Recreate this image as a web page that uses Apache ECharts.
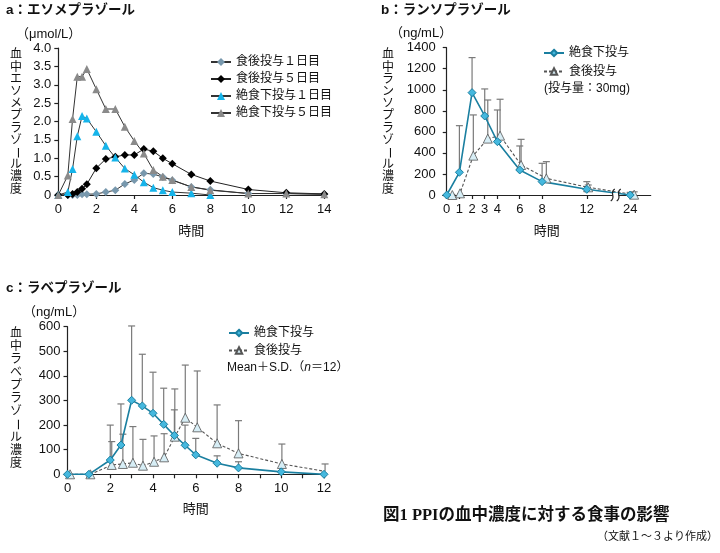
<!DOCTYPE html>
<html>
<head>
<meta charset="utf-8">
<script src="https://cdn.jsdelivr.net/npm/echarts@6/dist/echarts.min.js"></script>
<style>
html, body { margin: 0; padding: 0; background: #fff; }
#main { width: 720px; height: 553px; }
</style>
</head>
<body>
<div id="main"></div>
<script>
// a: エソメプラゾール (μmol/L)
var aTime = [0, 0.5, 0.75, 1, 1.25, 1.5, 2, 2.5, 3, 3.5, 4, 4.5, 5, 5.5, 6, 7, 8, 10, 12, 14];
var aFed1 = [0, 0, 0, 0, 0.02, 0.02, 0.03, 0.08, 0.13, 0.3, 0.41, 0.59, 0.57, 0.49, 0.4, 0.22, 0.14, 0.04, 0.04, 0.02];
var aFed5 = [0, 0, 0.03, 0.08, 0.17, 0.29, 0.73, 0.98, 1.04, 1.09, 1.09, 1.25, 1.19, 1.0, 0.85, 0.56, 0.38, 0.15, 0.06, 0.03];
var aFast1 = [0, 0.08, 0.71, 1.6, 2.15, 2.08, 1.72, 1.34, 1.02, 0.72, 0.55, 0.35, 0.2, 0.13, 0.08, 0.05, 0, null, null, null];
var aFast5 = [0, 0.53, 2.07, 3.22, 3.22, 3.43, 2.88, 2.34, 2.34, 1.86, 1.47, 1.13, 0.68, 0.5, 0.41, 0.22, 0.13, 0.04, 0.04, 0.02];
var aNames = ['食後投与１日目', '食後投与５日目', '絶食下投与１日目', '絶食下投与５日目'];

// b: ランソプラゾール (ng/mL)
var bFastTime = [0, 1, 2, 3, 4, 6, 8, 12, 24];
var bFast = [0, 216, 973, 751, 507, 238, 127, 54, 0];
var bFastTop = [null, 659, 1306, 1008, 808, 466, 301, 127, 25];
var bFedTime = [0.44, 1.05, 2.1, 3.24, 4.24, 6.12, 8.38, 12.38, 25.1];
var bFed = [0, 16, 374, 536, 564, 285, 158, 73, 3];
var bFedTop = [null, null, 761, 903, 910, 529, 317, 95, 30];
var bTicks = [0, 1, 2, 3, 4, 6, 8, 12, 24];
var bBreakAt = 20;

// c: ラベプラゾール (ng/mL)
var cFastTime = [0, 1, 2, 2.5, 3, 3.5, 4, 4.5, 5, 5.5, 6, 7, 8, 10, 12];
var cFast = [0, 0, 58, 119, 301, 278, 248, 203, 158, 118, 79, 45, 26, 10, 0];
var cFastTop = [null, null, 200, 286, 603, 488, 415, 350, 262, 200, 146, 75, 51, null, null];
var cFedTime = [0.12, 1.07, 2.07, 2.59, 3.06, 3.53, 4.05, 4.52, 5.02, 5.51, 6.07, 7, 8, 10.03, 12.05];
var cFed = [0, 0, 38, 42, 47, 35, 51, 69, 153, 230, 191, 126, 85, 42, 12];
var cFedTop = [null, null, 133, 163, 194, 142, 156, 165, 347, 444, 420, 282, 218, 123, 42];

var FONT = "'Liberation Sans', 'Noto Sans CJK JP', sans-serif";
var TEAL = '#1a7fa0';

// b axis is stretched 0-4h and broken before 24h
function bx(t) {
	var r = [0, 4, 12, 24], d = [0, 4.52, 12.5, 16.37];
	for (var i = 1; i < r.length; i++) {
		if (t <= r[i] || i == r.length - 1) {
			return d[i - 1] + (t - r[i - 1]) * (d[i] - d[i - 1]) / (r[i] - r[i - 1]);
		}
	}
}

function pairs(xs, ys, fx) {
	var out = [];
	for (var i = 0; i < xs.length; i++) {
		out.push([fx ? fx(xs[i]) : xs[i], ys[i]]);
	}
	return out;
}

function errData(xs, ys, tops, fx) {
	var out = [];
	for (var i = 0; i < xs.length; i++) {
		if (tops[i] == null) continue;
		out.push([fx ? fx(xs[i]) : xs[i], ys[i], tops[i]]);
	}
	return out;
}

function errRender(params, api) {
	var p0 = api.coord([api.value(0), api.value(1)]);
	var p1 = api.coord([api.value(0), api.value(2)]);
	var st = { stroke: '#7a7a7a', lineWidth: 1.2 };
	return {
		type: 'group',
		children: [
			{ type: 'line', shape: { x1: p0[0], y1: p0[1], x2: p1[0], y2: p1[1] }, style: st },
			{ type: 'line', shape: { x1: p1[0] - 3.5, y1: p1[1], x2: p1[0] + 3.5, y2: p1[1] }, style: st }
		]
	};
}

// vertical japanese label, one char per element
function vtext(str, x, y0, step, fs) {
	var els = [];
	for (var i = 0; i < str.length; i++) {
		var ch = str.charAt(i);
		els.push({
			type: 'text',
			x: x,
			y: y0 + step * i + step / 2,
			rotation: ch == 'ー' ? -Math.PI / 2 : 0,
			style: { text: ch, align: 'center', verticalAlign: 'middle', fontSize: fs, fontFamily: FONT, fill: '#111' }
		});
	}
	return els;
}

function txt(s, x, y, fs, extra) {
	var st = { text: s, x: x, y: y, fontSize: fs, fontFamily: FONT, fill: '#111', verticalAlign: 'middle' };
	for (var k in extra) st[k] = extra[k];
	return { type: 'text', style: st };
}

var axisLineStyle = { lineStyle: { color: '#222', width: 1.2 } };
var tickStyle = { show: true, inside: false, length: 4, lineStyle: { color: '#222', width: 1.2 } };
var labelStyle = { color: '#111', fontSize: 13, fontFamily: FONT };
var legendText = { fontSize: 12, color: '#111', fontFamily: FONT };

function lineSeries(name, xi, data, opt) {
	var s = {
		name: name,
		type: 'line',
		xAxisIndex: xi,
		yAxisIndex: xi,
		data: data,
		z: 3,
		animation: false,
		connectNulls: false
	};
	for (var k in opt) s[k] = opt[k];
	return s;
}

var fastStyle = {
	symbol: 'diamond', symbolSize: 8,
	lineStyle: { color: TEAL, width: 1.6 },
	itemStyle: { color: '#45b8de', borderColor: TEAL, borderWidth: 1 }
};
var fedStyle = {
	symbol: 'triangle', symbolSize: 9,
	lineStyle: { color: '#555', width: 1.1, type: [3, 2] },
	itemStyle: { color: '#d7eef6', borderColor: '#555', borderWidth: 0.8 }
};

var graphics = []
	.concat([
		txt('a：エソメプラゾール', 6, 10, 13.5, { fontWeight: 'bold' }),
		txt('（μmol/L）', 16, 34, 13),
		txt('b：ランソプラゾール', 381, 10, 13.5, { fontWeight: 'bold' }),
		txt('（ng/mL）', 390, 33, 13),
		txt('(投与量：30mg)', 544, 89, 12),
		txt('c：ラベプラゾール', 6, 288, 13.5, { fontWeight: 'bold' }),
		txt('（ng/mL）', 23, 312, 13),
		{
			type: 'text',
			style: {
				text: '{a|Mean＋S.D.（}{i|n}{a|＝12）}', x: 227, y: 368, verticalAlign: 'middle',
				rich: { a: { fontSize: 12, fontFamily: FONT, fill: '#111' }, i: { fontSize: 12, fontFamily: FONT, fontStyle: 'italic', fill: '#111' } }
			}
		},
		txt('図1 PPIの血中濃度に対する食事の影響', 383, 516, 16.5,
			{ fontWeight: 'bold', fontFamily: "'Liberation Serif', 'Noto Sans CJK JP', serif" }),
		txt('（文献１～３より作成）', 718, 537, 11, { align: 'right' })
	])
	.concat(vtext('血中エソメプラゾール濃度', 16, 49, 12.2, 12))
	.concat(vtext('血中ランソプラゾール濃度', 388, 49, 12.2, 12))
	.concat(vtext('血中ラベプラゾール濃度', 16, 327, 13, 12));

var bLabelMap = {};
bTicks.forEach(function (t) { bLabelMap[bx(t).toFixed(3)] = t; });

var option = {
	backgroundColor: '#fff',
	animation: false,
	textStyle: { fontFamily: FONT },
	graphic: graphics,
	grid: [
		{ left: 58.3, right: 395.7, top: 48, bottom: 358 },
		{ left: 442.7, right: 69.3, top: 47.7, bottom: 358 },
		{ left: 67.5, right: 396, top: 326.7, bottom: 78.7 }
	],
	legend: [
		{
			data: aNames, orient: 'vertical', left: 210, top: 56, padding: 0,
			itemWidth: 20, itemHeight: 10, itemGap: 5, textStyle: legendText
		},
		{
			data: ['絶食下投与', '食後投与'], orient: 'vertical', left: 543, top: 47, padding: 0,
			itemWidth: 20, itemHeight: 8, itemGap: 6.5, textStyle: legendText
		},
		{
			data: ['絶食下投与', '食後投与'], orient: 'vertical', left: 228, top: 327, padding: 0,
			itemWidth: 20, itemHeight: 8, itemGap: 5.5, textStyle: legendText
		}
	],
	xAxis: [
		{
			gridIndex: 0, type: 'value', min: 0, max: 14, interval: 2,
			name: '時間', nameLocation: 'middle', nameGap: 30,
			nameTextStyle: { fontSize: 13, color: '#111', fontFamily: FONT },
			axisLine: axisLineStyle, axisTick: tickStyle, splitLine: { show: false },
			axisLabel: Object.assign({ margin: 8 }, labelStyle)
		},
		{
			gridIndex: 1, type: 'value', min: -0.36, max: 18.2,
			name: '時間', nameLocation: 'middle', nameGap: 30,
			nameTextStyle: { fontSize: 13, color: '#111', fontFamily: FONT },
			axisLine: axisLineStyle, splitLine: { show: false },
			axisTick: Object.assign({ customValues: bTicks.map(bx) }, tickStyle),
			axisLabel: Object.assign({
				margin: 8,
				customValues: bTicks.map(bx),
				formatter: function (v) { return String(bLabelMap[v.toFixed(3)]); }
			}, labelStyle)
		},
		{
			gridIndex: 2, type: 'value', min: 0, max: 12, interval: 1,
			name: '時間', nameLocation: 'middle', nameGap: 29,
			nameTextStyle: { fontSize: 13, color: '#111', fontFamily: FONT },
			axisLine: axisLineStyle, axisTick: tickStyle, splitLine: { show: false },
			axisLabel: Object.assign({
				margin: 8,
				formatter: function (v) { return v % 2 == 0 ? String(v) : ''; }
			}, labelStyle)
		}
	],
	yAxis: [
		{
			gridIndex: 0, type: 'value', min: 0, max: 4, interval: 0.5,
			axisLine: Object.assign({ show: true }, axisLineStyle), axisTick: tickStyle, splitLine: { show: false },
			axisLabel: Object.assign({
				margin: 7,
				formatter: function (v) { return v == 0 ? '0' : v.toFixed(1); }
			}, labelStyle)
		},
		{
			gridIndex: 1, type: 'value', min: 0, max: 1400, interval: 200,
			axisLine: Object.assign({ show: true }, axisLineStyle), axisTick: tickStyle, splitLine: { show: false },
			axisLabel: Object.assign({ margin: 7, formatter: function (v) { return String(v); } }, labelStyle)
		},
		{
			gridIndex: 2, type: 'value', min: 0, max: 600, interval: 100,
			axisLine: Object.assign({ show: true }, axisLineStyle), axisTick: tickStyle, splitLine: { show: false },
			axisLabel: Object.assign({ margin: 7, formatter: function (v) { return String(v); } }, labelStyle)
		}
	],
	series: [
		// a
		lineSeries(aNames[0], 0, pairs(aTime, aFed1), {
			symbol: 'diamond', symbolSize: 8,
			lineStyle: { color: '#333', width: 1 },
			itemStyle: { color: '#7898ad' }
		}),
		lineSeries(aNames[1], 0, pairs(aTime, aFed5), {
			symbol: 'diamond', symbolSize: 8,
			lineStyle: { color: '#222', width: 1 },
			itemStyle: { color: '#000' }
		}),
		lineSeries(aNames[2], 0, pairs(aTime, aFast1), {
			symbol: 'triangle', symbolSize: 8,
			lineStyle: { color: '#333', width: 1 },
			itemStyle: { color: '#16b4ea' }
		}),
		lineSeries(aNames[3], 0, pairs(aTime, aFast5), {
			symbol: 'triangle', symbolSize: 8,
			lineStyle: { color: '#333', width: 1 },
			itemStyle: { color: '#8a8a8a' }
		}),
		// b
		{
			type: 'custom', xAxisIndex: 1, yAxisIndex: 1, z: 1, silent: true,
			renderItem: errRender, encode: { x: 0, y: [1, 2] },
			data: errData(bFastTime, bFast, bFastTop, bx).concat(errData(bFedTime, bFed, bFedTop, bx))
		},
		lineSeries('食後投与', 1, pairs(bFedTime, bFed, bx), fedStyle),
		lineSeries('絶食下投与', 1, pairs(bFastTime, bFast, bx), fastStyle),
		{
			// axis break mark
			type: 'custom', xAxisIndex: 1, yAxisIndex: 1, z: 5, silent: true,
			data: [[bx(bBreakAt), 0]],
			renderItem: function (params, api) {
				var p = api.coord([api.value(0), api.value(1)]);
				var s = { stroke: '#222', lineWidth: 1.2, fill: null };
				function sCurve(dx) {
					var x = p[0] + dx, y = p[1];
					return {
						type: 'bezierCurve',
						shape: { x1: x + 2, y1: y - 6, cpx1: x - 4, cpy1: y - 2, cpx2: x + 4, cpy2: y + 2, x2: x - 2, y2: y + 6 },
						style: s
					};
				}
				return {
					type: 'group',
					children: [
						{ type: 'rect', shape: { x: p[0] - 3, y: p[1] - 2, width: 6, height: 4 }, style: { fill: '#fff' } },
						sCurve(-3), sCurve(3)
					]
				};
			}
		},
		// c
		{
			type: 'custom', xAxisIndex: 2, yAxisIndex: 2, z: 1, silent: true,
			renderItem: errRender, encode: { x: 0, y: [1, 2] },
			data: errData(cFastTime, cFast, cFastTop).concat(errData(cFedTime, cFed, cFedTop))
		},
		lineSeries('食後投与', 2, pairs(cFedTime, cFed), fedStyle),
		lineSeries('絶食下投与', 2, pairs(cFastTime, cFast), fastStyle)
	]
};

var chart = echarts.init(document.getElementById('main'));
chart.setOption(option);
</script>
</body>
</html>
